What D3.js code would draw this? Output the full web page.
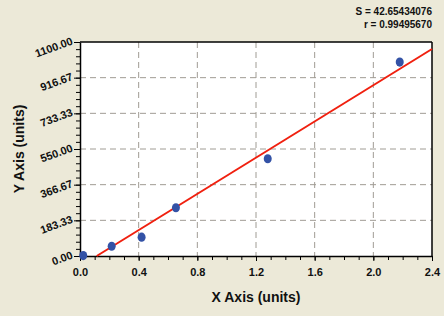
<!DOCTYPE html>
<html>
<head>
<meta charset="utf-8">
<script src="https://d3js.org/d3.v7.min.js"></script>
<style>
body { margin: 0; background: #ECE9D8; }
svg { display: block; font-family: "Liberation Sans", Arial, sans-serif; }
</style>
</head>
<body>
<div class="chart"></div>
<script>
// measured points
var xVals = [0.022, 0.216, 0.42, 0.654, 1.28, 2.18];
var yVals = [2, 50, 97, 248, 500, 997];
// fitted line end points
var fitX = [0.114, 2.4];
var fitY = [0, 1064];
var yTicks = [0, 183.33, 366.67, 550, 733.33, 916.67, 1100];
var xTicks = [0, 0.4, 0.8, 1.2, 1.6, 2.0, 2.4];
var stats = ["S = 42.65434076", "r = 0.99495670"];

var W = 444, H = 316;
var margin = {top: 42, right: 12, bottom: 60, left: 80};
var width = W - margin.left - margin.right,
    height = H - margin.top - margin.bottom;

var svg = d3.select(".chart").append("svg")
    .attr("width", W)
    .attr("height", H);

var g = svg.append("g")
    .attr("transform", "translate(" + margin.left + "," + margin.top + ")");

var xScale = d3.scaleLinear().domain([0, 2.4]).range([0, width]);
var yScale = d3.scaleLinear().domain([0, 1100]).range([height, 0]);

g.append("rect")
    .attr("width", width)
    .attr("height", height)
    .attr("fill", "white");

// grid
g.selectAll(".hgrid")
    .data(yTicks.slice(1, -1))
    .enter().append("line")
    .attr("x1", 0).attr("x2", width)
    .attr("y1", function(d) { return yScale(d); })
    .attr("y2", function(d) { return yScale(d); })
    .attr("stroke", "#a09c94")
    .attr("stroke-dasharray", "6,4");

g.selectAll(".vgrid")
    .data(xTicks.slice(1, -1))
    .enter().append("line")
    .attr("y1", 0).attr("y2", height)
    .attr("x1", function(d) { return xScale(d); })
    .attr("x2", function(d) { return xScale(d); })
    .attr("stroke", "#a09c94")
    .attr("stroke-dasharray", "6,4");

// minor ticks (0.1 on x, 5 per major on y)
var xMinor = d3.range(0, 2.4001, 0.1);
var yMinor = d3.range(0, 31).map(function(i) { return i * 1100 / 30; });

g.append("g")
    .attr("transform", "translate(0," + height + ")")
    .call(d3.axisBottom(xScale).tickValues(xMinor).tickSize(4).tickFormat(""))
    .call(function(s) { s.select(".domain").remove(); });

g.append("g")
    .call(d3.axisLeft(yScale).tickValues(yMinor).tickSize(4).tickFormat(""))
    .call(function(s) { s.select(".domain").remove(); });

// major axes
var xAxis = g.append("g")
    .attr("transform", "translate(0," + height + ")")
    .call(d3.axisBottom(xScale).tickValues(xTicks).tickSize(5).tickSizeOuter(0)
        .tickFormat(d3.format(".1f")));
xAxis.selectAll("text")
    .attr("dy", "1.1em")
    .style("font-size", "11px")
    .style("font-weight", "bold")
    .attr("fill", "#111");

var yAxis = g.append("g")
    .call(d3.axisLeft(yScale).tickValues(yTicks).tickSize(6).tickSizeOuter(0)
        .tickFormat(d3.format(".2f")));
yAxis.selectAll("text")
    .attr("x", -7)
    .attr("dy", "0.15em")
    .attr("transform", "rotate(-20,-7,0)")
    .style("font-size", "11px")
    .style("font-weight", "bold")
    .attr("fill", "#111");

svg.selectAll(".domain").attr("stroke", "#000").attr("stroke-width", 1.5);
svg.selectAll(".tick line").attr("stroke", "#000");

// frame top/right
g.append("line").attr("x1", 0).attr("x2", width).attr("y1", 0).attr("y2", 0)
    .attr("stroke", "#000").attr("stroke-width", 1.5);
g.append("line").attr("x1", width).attr("x2", width).attr("y1", 0).attr("y2", height)
    .attr("stroke", "#000").attr("stroke-width", 1.5);

// fit line
g.append("line")
    .attr("x1", xScale(fitX[0])).attr("y1", yScale(fitY[0]))
    .attr("x2", xScale(fitX[1])).attr("y2", yScale(fitY[1]))
    .attr("stroke", "#f0200f")
    .attr("stroke-width", 2);

// points
g.selectAll(".dot")
    .data(xVals)
    .enter().append("ellipse")
    .attr("cx", function(d) { return xScale(d); })
    .attr("cy", function(d, i) { return yScale(yVals[i]); })
    .attr("rx", 4)
    .attr("ry", 4.6)
    .attr("fill", "#3352a6");

// titles
svg.append("text")
    .attr("x", margin.left + width / 2)
    .attr("y", 302)
    .attr("text-anchor", "middle")
    .style("font-size", "14px")
    .style("font-weight", "bold")
    .attr("fill", "#111")
    .text("X Axis (units)");

svg.append("text")
    .attr("transform", "translate(24," + (margin.top + height / 2) + ") rotate(-90)")
    .attr("text-anchor", "middle")
    .style("font-size", "14px")
    .style("font-weight", "bold")
    .attr("fill", "#111")
    .text("Y Axis (units)");

svg.selectAll(".stat")
    .data(stats)
    .enter().append("text")
    .attr("x", 432)
    .attr("y", function(d, i) { return 15 + i * 13; })
    .attr("text-anchor", "end")
    .style("font-size", "10px")
    .style("font-weight", "bold")
    .attr("fill", "#111")
    .text(function(d) { return d; });
</script>
</body>
</html>
